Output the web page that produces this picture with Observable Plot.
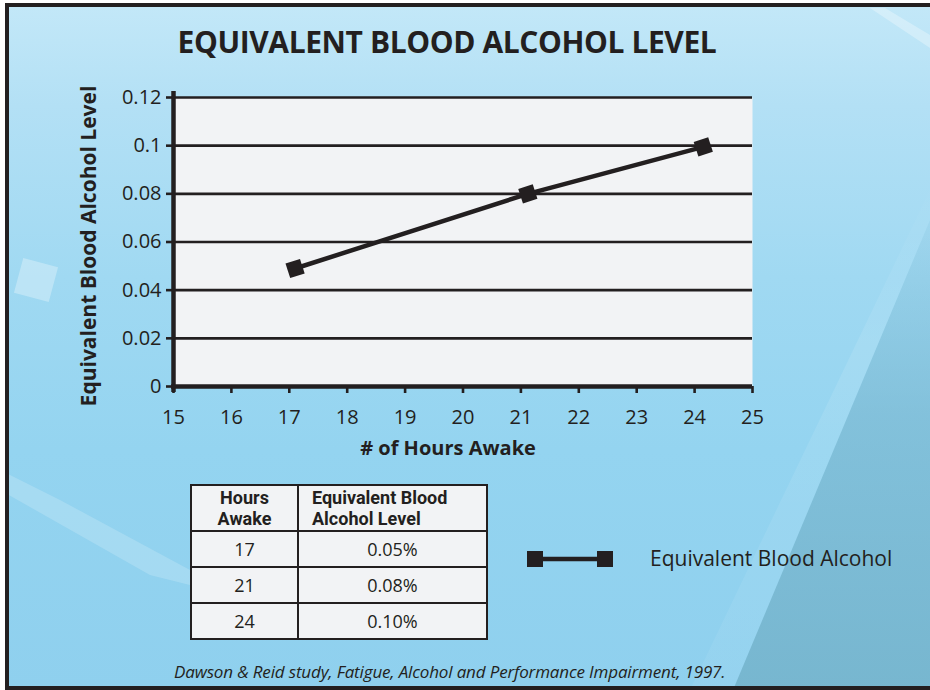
<!DOCTYPE html>
<html>
<head>
<meta charset="utf-8">
<script src="https://cdn.jsdelivr.net/npm/d3@7"></script>
<script src="https://cdn.jsdelivr.net/npm/@observablehq/plot@0.6"></script>
<style>
  html, body { margin: 0; padding: 0; background: #ffffff; }
  #page { position: relative; width: 930px; height: 690px; overflow: hidden; font-family: "Open Sans", sans-serif; color: #231f20; }
  #bg { position: absolute; left: 5px; top: 3px; width: 925px; height: 687px;
        background: linear-gradient(180deg, #c3e8f8 0%, #b3e0f5 15%, #a0d9f2 40%, #94d4f0 65%, #8fd0ee 100%); }
  #dark { position: absolute; left: 0; top: 0; width: 930px; height: 690px;
          background: linear-gradient(180deg, rgba(125,185,210,0.1) 30%, rgba(118,180,205,0.6) 60%, rgba(115,178,202,0.85) 100%);
          clip-path: polygon(930px 220px, 930px 690px, 733px 690px); }
  #glow { position: absolute; left: 0; top: 0; width: 930px; height: 690px;
          background: linear-gradient(180deg, rgba(255,255,255,0.0) 25%, rgba(255,255,255,0.1) 50%, rgba(255,255,255,0.05) 100%);
          clip-path: polygon(930px 190px, 930px 220px, 733px 690px, 690px 690px); }
  #light { position: absolute; left: 0; top: 0; width: 930px; height: 690px;
           background: rgba(255,255,255,0.18);
           clip-path: polygon(0px 470px, 0px 490px, 150px 575px, 190px 585px, 190px 570px, 60px 500px); }
  #streak { position: absolute; left: 0; top: 0; width: 930px; height: 690px;
           background: rgba(255,255,255,0.3);
           clip-path: polygon(870px 8px, 885px 8px, 930px 35px, 930px 48px); }
  #square { position: absolute; left: 18px; top: 262px; width: 36px; height: 36px; background: rgba(255,255,255,0.3); transform: rotate(15deg); }
  #borderTop { position: absolute; left: 5px; top: 3px; width: 925px; height: 4px; background: #231f20; }
  #borderLeft { position: absolute; left: 5px; top: 3px; width: 4px; height: 687px; background: #231f20; }
  #borderBottom { position: absolute; left: 5px; top: 686px; width: 925px; height: 4px; background: #231f20; }
  #title { position: absolute; left: 0; top: 27px; width: 894px; text-align: center; font-weight: 700; font-size: 30px; line-height: 30px; white-space: nowrap; letter-spacing: -0.4px; }
  #chart { position: absolute; left: 0; top: 0; }
  #tbl { position: absolute; left: 190px; top: 484px; width: 298px; border-collapse: collapse; background: #f2f3f5; font-size: 18px; }
  #tbl td, #tbl th { border: 2.5px solid #231f20; padding: 0; line-height: 19px; }
  #tbl th { font-family: Roboto, sans-serif; font-weight: 700; height: 44px; vertical-align: middle; font-size: 18px; line-height: 21.5px; }
  #tbl td { text-align: center; height: 34px; }
  #legendSwatch { position: absolute; left: 526px; top: 550px; }
  #legendText { position: absolute; left: 650px; top: 545px; font-size: 21px; line-height: 26px; white-space: nowrap; }
  #caption { position: absolute; left: 174px; top: 662px; font-size: 17px; line-height: 19px; font-style: italic; white-space: nowrap; letter-spacing: -0.15px; }
</style>
</head>
<body>
<div id="page">
  <div id="bg"></div>
  <div id="dark"></div>
  <div id="glow"></div>
  <div id="light"></div>
  <div id="streak"></div>
  <div id="square"></div>
  <div id="title">EQUIVALENT BLOOD ALCOHOL LEVEL</div>
  <div id="chart"></div>
  <table id="tbl"></table>
  <svg id="legendSwatch" width="90" height="20"></svg>
  <div id="legendText"></div>
  <div id="caption"></div>
  <div id="borderTop"></div>
  <div id="borderLeft"></div>
  <div id="borderBottom"></div>
</div>
<script>
// ---- data ----
const hoursAwake = [17.1, 21.12, 24.15];
const bloodAlcohol = [0.049, 0.080, 0.0995];
const xTicks = [15, 16, 17, 18, 19, 20, 21, 22, 23, 24, 25];
const yTicks = [0, 0.02, 0.04, 0.06, 0.08, 0.1, 0.12];
const yTickLabels = ["0", "0.02", "0.04", "0.06", "0.08", "0.1", "0.12"];
const tableHeaders = [["Hours", "Awake"], ["Equivalent Blood", "Alcohol Level"]];
const tableHours = ["17", "21", "24"];
const tableLevels = ["0.05%", "0.08%", "0.10%"];
const seriesName = "Equivalent Blood Alcohol";
const xLabel = "# of Hours Awake";
const yLabel = "Equivalent Blood Alcohol Level";
const captionText = "Dawson & Reid study, Fatigue, Alcohol and Performance Impairment, 1997.";

const ink = "#231f20";
const data = hoursAwake.map((h, i) => ({hours: h, level: bloodAlcohol[i]}));

const chart = Plot.plot({
  width: 930,
  height: 470,
  marginLeft: 173,
  marginRight: 178,
  marginTop: 97,
  marginBottom: 84,
  x: {domain: [15, 25]},
  y: {domain: [0, 0.12]},
  style: {background: "transparent", color: ink, fontFamily: "Open Sans, sans-serif", fontSize: "20px", overflow: "visible"},
  marks: [
    Plot.frame({fill: "#f2f3f5", stroke: null}),
    Plot.ruleY(yTicks.slice(1), {stroke: ink, strokeWidth: 2.6}),
    Plot.axisY({ticks: yTicks, tickFormat: d => yTickLabels[yTicks.indexOf(d)], tickSize: 7, tickPadding: 5, stroke: ink, strokeWidth: 2.6, label: null, fontSize: 20}),
    Plot.axisX({ticks: xTicks, tickFormat: d => String(d), tickSize: 7, tickPadding: 16, stroke: ink, strokeWidth: 2.6, label: null, fontSize: 20}),
    Plot.ruleX([15], {stroke: ink, strokeWidth: 4.5, insetTop: -6, insetBottom: -6}),
    Plot.ruleY([0], {stroke: ink, strokeWidth: 4.5, insetLeft: -2}),
    Plot.line(data, {x: "hours", y: "level", stroke: ink, strokeWidth: 4.5}),
    Plot.dot(data, {x: "hours", y: "level", symbol: "square", r: 8.6, fill: ink, stroke: null, rotate: -18}),
    Plot.text([yLabel], {frameAnchor: "left", textAnchor: "middle", rotate: -90, dx: -84, dy: 4, fontWeight: "bold", fontSize: 21, fill: ink}),
    Plot.text([xLabel], {frameAnchor: "bottom", dx: -15, dy: 68, fontWeight: "bold", fontSize: 20, fill: ink})
  ]
});
document.getElementById("chart").appendChild(chart);

// ---- table ----
const tbl = document.getElementById("tbl");
const hr = document.createElement("tr");
tableHeaders.forEach((lines, i) => {
  const th = document.createElement("th");
  th.innerHTML = lines.join("<br>");
  th.style.textAlign = i === 0 ? "center" : "left";
  th.style.width = i === 0 ? "105px" : "auto";
  if (i === 1) th.style.paddingLeft = "13px";
  hr.appendChild(th);
});
tbl.appendChild(hr);
tableHours.forEach((h, i) => {
  const tr = document.createElement("tr");
  [h, tableLevels[i]].forEach(v => {
    const td = document.createElement("td");
    td.textContent = v;
    tr.appendChild(td);
  });
  tbl.appendChild(tr);
});

// ---- legend ----
const sw = d3.select("#legendSwatch");
sw.append("line").attr("x1", 8).attr("x2", 80).attr("y1", 9).attr("y2", 9).attr("stroke", ink).attr("stroke-width", 4.5);
sw.append("rect").attr("x", 1).attr("y", 1).attr("width", 16).attr("height", 16).attr("fill", ink);
sw.append("rect").attr("x", 71).attr("y", 1).attr("width", 16).attr("height", 16).attr("fill", ink);
document.getElementById("legendText").textContent = seriesName;
document.getElementById("caption").textContent = captionText;
</script>
</body>
</html>
